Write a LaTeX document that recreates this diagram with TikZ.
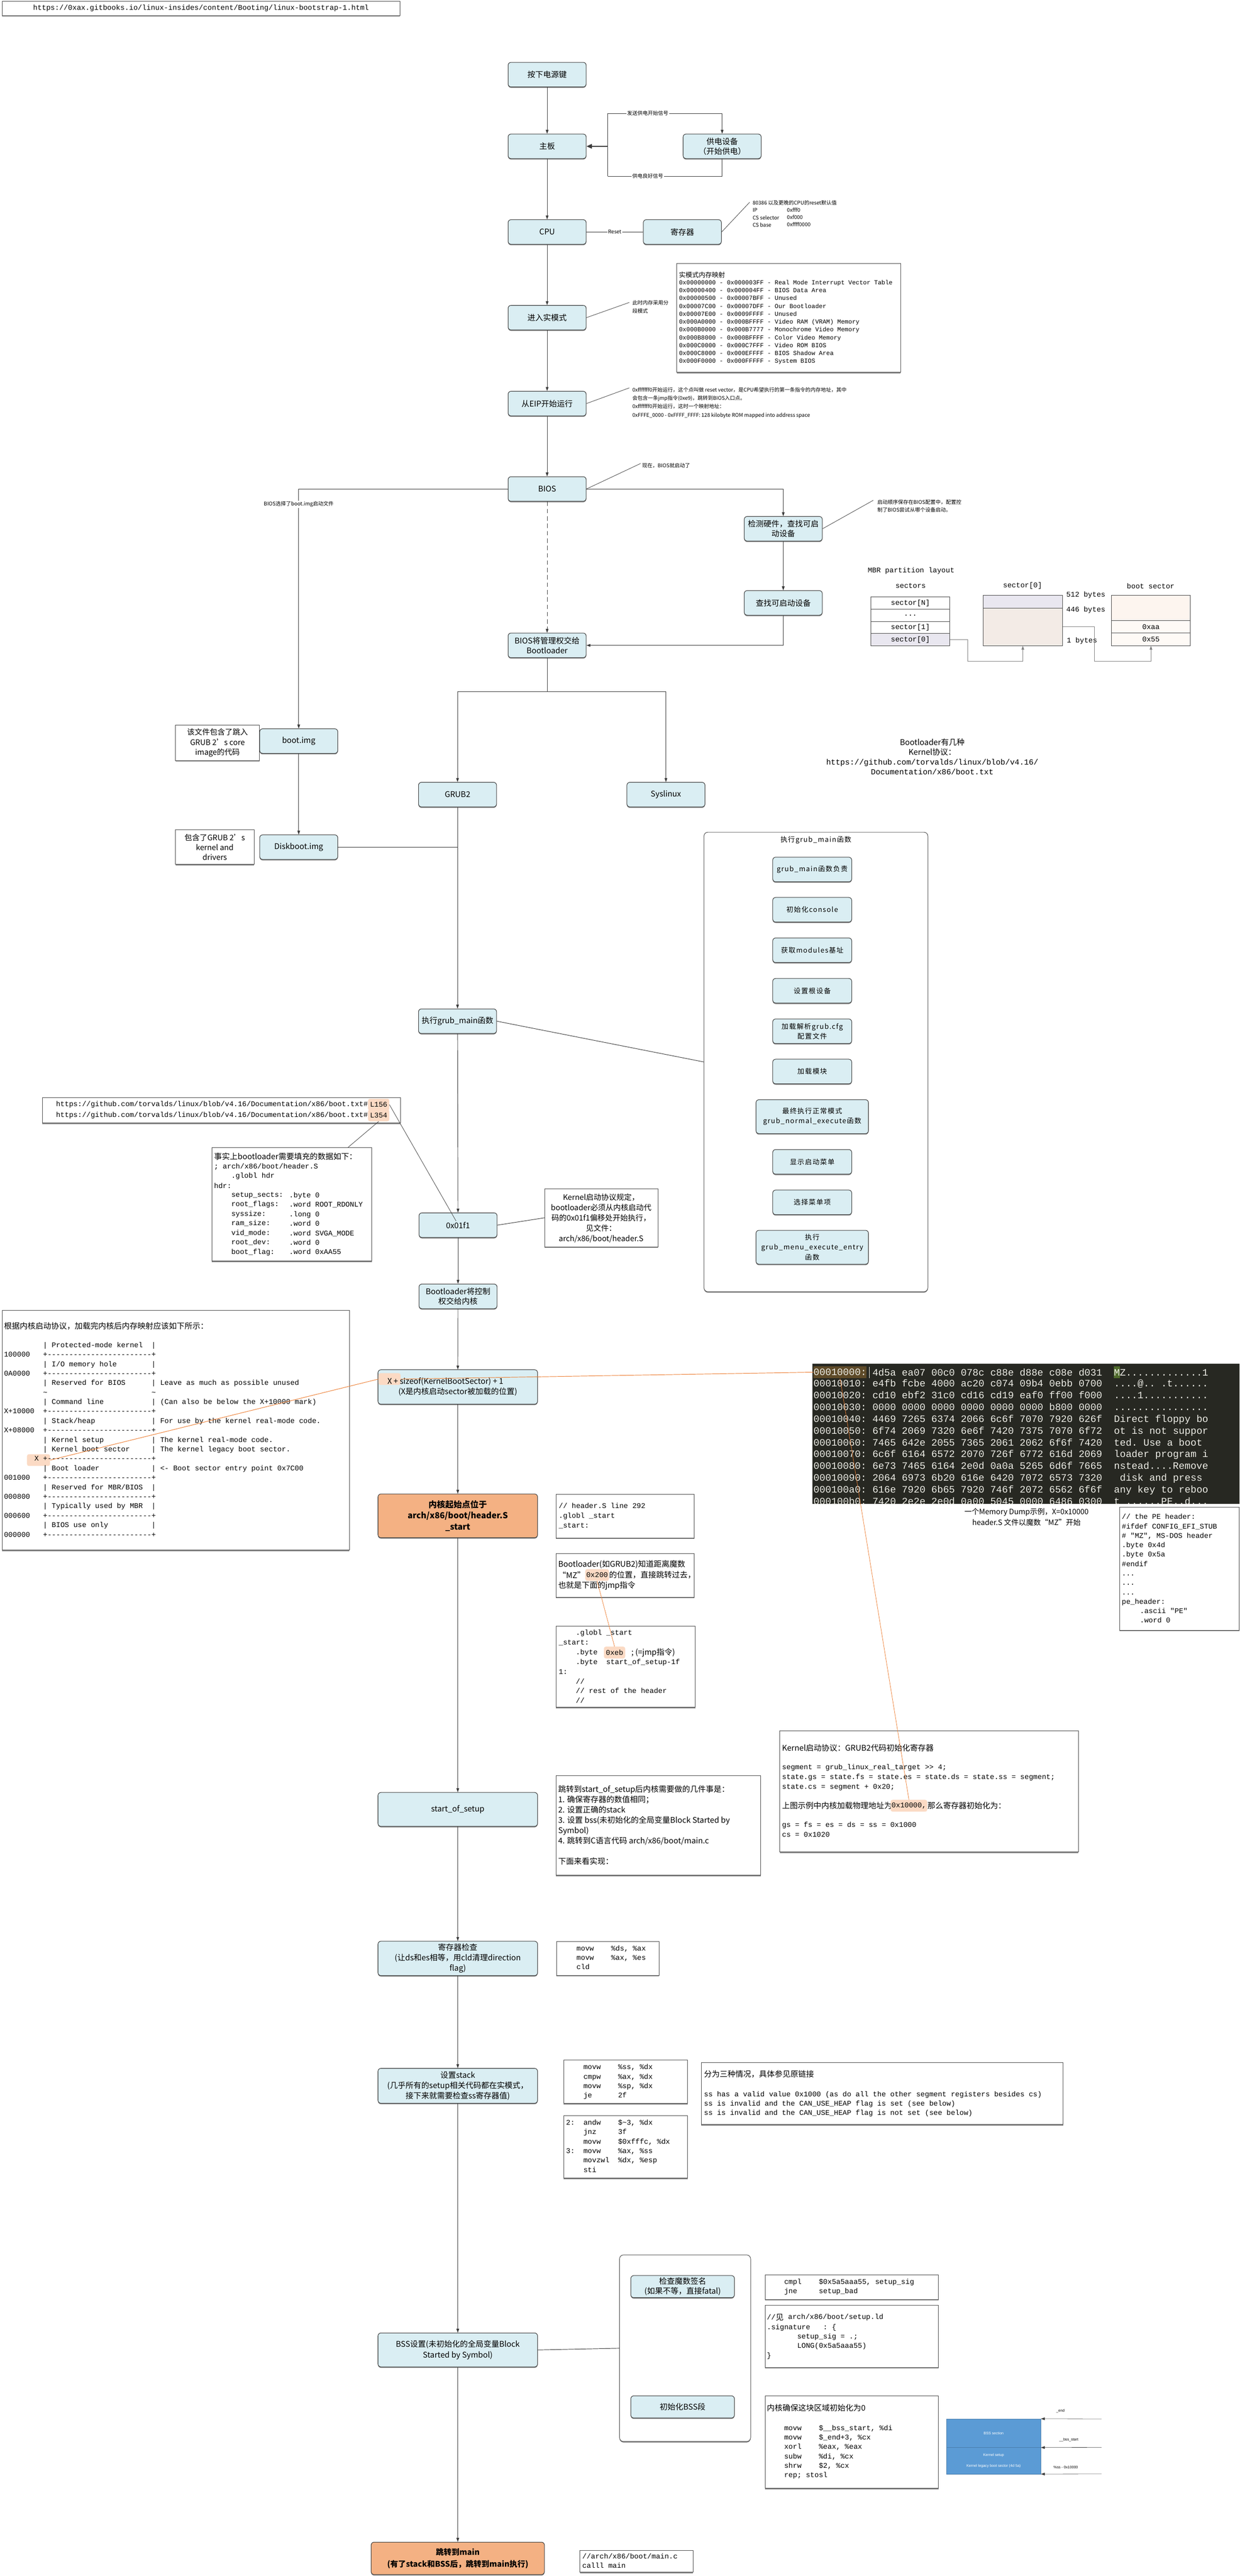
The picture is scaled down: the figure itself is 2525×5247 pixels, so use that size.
\documentclass[tikz,border=0pt]{standalone}
\usepackage{fontspec}
\setmainfont{Noto Sans CJK SC}
\setmonofont{Liberation Mono}
\newfontfamily\gfont{Noto Sans CJK SC}[LetterSpace=10]
\newfontfamily\sfn{Liberation Sans}
\usetikzlibrary{arrows.meta,shadows}
\definecolor{boxfill}{HTML}{DAEEF3}
\definecolor{boxline}{HTML}{3C3C3C}
\definecolor{frline}{HTML}{4A4A4A}
\definecolor{linec}{HTML}{3A3A3A}
\definecolor{orangefill}{HTML}{F4B183}
\definecolor{peach}{HTML}{FBDAC4}
\definecolor{orline}{HTML}{ED7D31}
\definecolor{hexbg}{HTML}{272822}
\definecolor{hexfg}{HTML}{EDEDE6}
\definecolor{hexhl}{HTML}{5E4A28}
\definecolor{mgreen}{HTML}{4F6B2C}
\definecolor{lav}{HTML}{E9E7F0}
\definecolor{beige}{HTML}{F3EBE6}
\definecolor{cream}{HTML}{FDF5EF}
\definecolor{creamb}{HTML}{FEFAF6}
\definecolor{bssblue}{HTML}{5B9BD5}
\definecolor{shad}{HTML}{8A8A8A}
\newcommand\fs[2]{\fontsize{#1}{#2}\selectfont}
\newcommand\spc[1]{\hspace*{#1\dimexpr0.6em\relax}}
\newcommand\mmsep{+------------------------+}
\tikzset{
 ln/.style={draw=linec, line width=1pt},
 arr/.style={ln, -{Triangle[length=8pt,width=5.5pt]}},
 nl/.style={draw=linec, line width=0.8pt},
 orl/.style={draw=orline, line width=1pt},
 shd/.style={drop shadow={shadow xshift=0pt, shadow yshift=-2pt, fill=shad, opacity=1}},
 bx/.style={draw=boxline, fill=boxfill, rounded corners=6pt, line width=1.1pt, align=center, font=\fs{16}{20}, inner sep=2pt, minimum width=159pt, minimum height=50pt, shd},
 obx/.style={bx, fill=orangefill, font=\bfseries\fs{17}{23}},
 gbx/.style={bx, minimum width=161pt, font=\gfont\fs{14}{20}},
 fr/.style={draw=frline, line width=1pt, fill=white, inner sep=0pt, anchor=north west, shd},
 lbl/.style={fill=white, inner sep=1.5pt, font=\fs{10.5}{12}},
 note/.style={anchor=north west, inner sep=0pt, align=left, font=\fs{10.5}{16}},
 tx/.style={anchor=west, inner sep=0pt, font=\fs{16}{20}},
 txb/.style={anchor=north west, inner sep=0pt, align=left, font=\fs{16}{20}},
 mo/.style={anchor=west, inner sep=0pt, font=\ttfamily\fs{14.7}{19.3}},
 mob/.style={anchor=north west, inner sep=0pt, align=left, font=\ttfamily\fs{14.7}{19.3}},
 hlp/.style={fill=peach, rounded corners=4pt, inner xsep=4pt, inner ysep=0pt, minimum height=24pt, anchor=west},
 cell/.style={draw=frline, line width=1pt, minimum width=161pt, minimum height=24.8pt, inner sep=0pt, font=\ttfamily\fs{14.7}{16}},
}
\begin{document}
\begin{tikzpicture}[x=1pt,y=-1pt]
\useasboundingbox (0,0) rectangle (2525,5247);
\fill[white] (0,0) rectangle (2525,5247);

% ---------------- top url
\node[fr, minimum width=810pt, minimum height=29pt] (urltop) at (4,2) {};
\node[inner sep=0pt, font=\ttfamily\fs{14.8}{16}] (urltoptxt) at (urltop.center) {https://0xax.gitbooks.io/linux-insides/content/Booting/linux-bootstrap-1.html};

% ---------------- upper column
\node[bx] (pw) at (1114.5,152) {按下电源键};
\node[bx] (mb) at (1114.5,298) {主板};
\node[bx] (psu) at (1471,298) {供电设备\\（开始供电）};
\node[bx] (cpu) at (1114.5,472.5) {CPU};
\node[bx] (reg) at (1390,472.5) {寄存器};
\node[bx] (rm) at (1114.5,647) {进入实模式};
\node[bx] (eip) at (1114.5,822) {从EIP开始运行};
\node[bx] (bios) at (1114.5,996) {BIOS};
\node[bx] (hw) at (1595.5,1077) {检测硬件，查找可启\\动设备};
\node[bx] (find) at (1595.5,1228) {查找可启动设备};
\node[bx] (bl) at (1114.5,1314.5) {BIOS将管理权交给\\Bootloader};

% notes upper
\coordinate (regN) at (1527,412);
\node[note, font=\fs{10.5}{15}] (regtxt) at (1533,408) {80386 以及更晚的CPU的reset默认值\\IP\\CS selector\\CS base};
\node[note, font=\fs{10.5}{15}] (regval) at (1603,423) {0xfff0\\0xf000\\0xffff0000};

\node[fr, minimum width=456pt, minimum height=222pt] (rmmap) at (1378,536) {};
\node[anchor=west, inner sep=0pt, font=\fs{13.4}{16}] (rmtitle) at (1383,560) {实模式内存映射};
\node[anchor=north west, inner sep=0pt, align=left, font=\ttfamily\fs{12.5}{16}] (rmlines) at (1383,570.5) {0x00000000 - 0x000003FF - Real Mode Interrupt Vector Table\\
0x00000400 - 0x000004FF - BIOS Data Area\\
0x00000500 - 0x00007BFF - Unused\\
0x00007C00 - 0x00007DFF - Our Bootloader\\
0x00007E00 - 0x0009FFFF - Unused\\
0x000A0000 - 0x000BFFFF - Video RAM (VRAM) Memory\\
0x000B0000 - 0x000B7777 - Monochrome Video Memory\\
0x000B8000 - 0x000BFFFF - Color Video Memory\\
0x000C0000 - 0x000C7FFF - Video ROM BIOS\\
0x000C8000 - 0x000EFFFF - BIOS Shadow Area\\
0x000F0000 - 0x000FFFFF - System BIOS};

\coordinate (rmN) at (1282,616);
\node[note] (rmtxt) at (1288,612) {此时内存采用分\\段模式};
\coordinate (eipN) at (1282,790);
\node[note, font=\fs{10.5}{17}] (eiptxt) at (1288,789) {0xfffffff0开始运行，这个点叫做 reset vector，是CPU希望执行的第一条指令的内存地址，其中\\会包含一条jmp指令(0xe9)，跳转到BIOS入口点。\\0xfffffff0开始运行，这时一个映射地址：\\0xFFFE\_0000 - 0xFFFF\_FFFF: 128 kilobyte ROM mapped into address space};
\coordinate (biosN) at (1305,944);
\node[anchor=west, inner sep=0pt, font=\fs{10.5}{12}] (biostxt) at (1308,948) {现在，BIOS就启动了};
\coordinate (hwN) at (1779,1019);
\node[note] (hwtxt) at (1787,1018) {启动顺序保存在BIOS配置中，配置控\\制了BIOS尝试从哪个设备启动。};

% ---------------- MBR layout
\node[inner sep=0pt, font=\ttfamily\fs{14.7}{16}] (mbrt) at (1856,1163) {MBR partition layout};
\node[inner sep=0pt, font=\ttfamily\fs{14.7}{16}] (sect) at (1855,1193) {sectors};
\node[cell] (sN) at (1854.5,1228.4) {sector[N]};
\node[cell] (sD) at (1854.5,1253.2) {...};
\node[cell] (s1) at (1854.5,1278) {sector[1]};
\node[cell, fill=lav] (s0) at (1854.5,1302.8) {sector[0]};
\node[inner sep=0pt, font=\ttfamily\fs{14.7}{16}] (s0t) at (2083,1193) {sector[0]};
\node[cell, fill=lav, minimum height=26pt] (st0a) at (2083.5,1226) {};
\node[cell, fill=beige, minimum height=76pt] (st0b) at (2083.5,1277) {};
\node[mo] (l512) at (2172,1212) {512 bytes};
\node[mo] (l446) at (2172,1242) {446 bytes};
\node[mo] (l1b) at (2173,1305) {1 bytes};
\node[inner sep=0pt, font=\ttfamily\fs{14.7}{16}] (bst) at (2344,1194) {boot sector};
\node[cell, fill=cream, minimum height=51pt] (bsa) at (2344.5,1238.5) {};
\node[cell, fill=creamb, minimum height=25pt] (bsaa) at (2344.5,1276.5) {0xaa};
\node[cell, fill=creamb, minimum height=26pt] (bs55) at (2344.5,1302) {0x55};
\coordinate (m1) at (1971,1347);
\coordinate (m2) at (2229,1347);

\node[align=center, anchor=north, inner sep=0pt, font=\fs{16}{20}] (bltypes) at (1899,1504) {Bootloader有几种\\Kernel协议：\\{\ttfamily https://github.com/torvalds/linux/blob/v4.16/}\\{\ttfamily Documentation/x86/boot.txt}};

% ---------------- bootloaders
\node[bx] (bootimg) at (608.5,1509.5) {boot.img};
\node[bx] (diskimg) at (608.5,1725.5) {Diskboot.img};
\node[bx] (grub2) at (932,1618.5) {GRUB2};
\node[bx] (syslinux) at (1356.5,1618.5) {Syslinux};
\node[fr, minimum width=171pt, minimum height=73pt] (note1) at (357,1476) {};
\node[align=center, inner sep=0pt, font=\fs{15.5}{20.5}] (note1t) at (note1.center) {该文件包含了跳入\\GRUB 2's core\\image的代码};
\node[fr, minimum width=160pt, minimum height=70pt] (note2) at (357,1690) {};
\node[align=center, inner sep=0pt, font=\fs{15.5}{20}] (note2t) at (note2.center) {包含了GRUB 2's\\kernel and\\drivers};

% ---------------- grub_main container
\node[draw=frline, line width=1pt, fill=white, rounded corners=8pt, minimum width=456pt, minimum height=936pt, inner sep=0pt, shd] (gcont) at (1662,2163) {};
\node[inner sep=0pt, font=\gfont\fs{14}{17}] (gtitle) at (1662,1711) {执行grub\_main函数};
\node[gbx] (g1) at (1654.5,1771) {grub\_main函数负责};
\node[gbx] (g2) at (1654.5,1853) {初始化console};
\node[gbx] (g3) at (1654.5,1935.5) {获取modules基址};
\node[gbx] (g4) at (1654.5,2018) {设置根设备};
\node[gbx] (g5) at (1654.5,2100.5) {加载解析grub.cfg\\配置文件};
\node[gbx] (g6) at (1654.5,2182.5) {加载模块};
\node[gbx, minimum width=229pt, minimum height=69pt] (g7) at (1654.5,2274.5) {最终执行正常模式\\grub\_normal\_execute函数};
\node[gbx] (g8) at (1654.5,2366.5) {显示启动菜单};
\node[gbx] (g9) at (1654.5,2449) {选择菜单项};
\node[gbx, minimum width=229pt, minimum height=69pt] (g10) at (1654.5,2540.5) {执行\\grub\_menu\_execute\_entry\\函数};

% ---------------- lower main column
\node[bx] (grubmain) at (932,2080) {执行grub\_main函数};
\node[bx] (x01f1) at (933,2495.5) {0x01f1};
\node[bx] (bl2k) at (933,2640.5) {Bootloader将控制\\权交给内核};
\node[bx, minimum width=325pt, minimum height=70pt] (xs) at (932.5,2825) {};
\node[fill=peach, rounded corners=4pt, minimum width=45pt, minimum height=24pt, inner sep=0pt] (hlXS) at (793.5,2809) {};
\node[tx] (xs1) at (789,2814) {X + sizeof(KernelBootSector) + 1};
\node[inner sep=0pt, font=\fs{16}{20}] (xs2) at (932.5,2835) {(X是内核启动sector被加载的位置)};
\node[obx, minimum width=325pt, minimum height=89pt] (kstart) at (932.5,3087.5) {内核起始点位于\\arch/x86/boot/header.S\\\_start};
\node[bx, minimum width=325pt, minimum height=69pt] (sos) at (932.5,3685.5) {start\_of\_setup};
\node[bx, minimum width=325pt, minimum height=70pt, font=\fs{16}{21}] (regchk) at (932.5,3989) {寄存器检查\\(让ds和es相等，用cld清理direction\\flag)};
\node[bx, minimum width=325pt, minimum height=71pt, font=\fs{16}{21}] (stk) at (932.5,4248.5) {设置stack\\(几乎所有的setup相关代码都在实模式，\\接下来就需要检查ss寄存器值)};
\node[bx, minimum width=325pt, minimum height=69pt, font=\fs{16}{22}] (bss) at (932.5,4786.5) {BSS设置(未初始化的全局变量Block\\Started by Symbol)};
\node[obx, minimum width=353pt, minimum height=66pt, font=\bfseries\fs{16}{24}] (mainb) at (932.5,5211) {跳转到main\\(有了stack和BSS后，跳转到main执行)};

% ---------------- url box 2 and hdr
\node[fr, minimum width=729pt, minimum height=52pt] (url2) at (86,2235) {};
\node[mo] (u1) at (114,2250) {https://github.com/torvalds/linux/blob/v4.16/Documentation/x86/boot.txt\#};
\node[hlp, font=\ttfamily\fs{14.7}{16}] (hlL156) at (u1.east) {L156};
\node[mo] (u2) at (114,2272) {https://github.com/torvalds/linux/blob/v4.16/Documentation/x86/boot.txt\#};
\node[hlp, font=\ttfamily\fs{14.7}{16}] (hlL354) at (u2.east) {L354};
\coordinate (hdrtop) at (709,2337);
\coordinate (x01end) at (929,2487);

\node[fr, minimum width=326pt, minimum height=231pt] (hdrb) at (431,2337) {};
\node[tx] (hdr0) at (436,2356) {事实上bootloader需要填充的数据如下：};
\node[mo] (hdr1) at (436,2376) {; arch/x86/boot/header.S};
\node[mo] (hdr2) at (471,2396) {.globl hdr};
\node[mo] (hdr3) at (436,2415) {hdr:};
\node[mob, font=\ttfamily\fs{14.7}{19.4}] (hdrn) at (471,2428) {setup\_sects:\\root\_flags:\\syssize:\\ram\_size:\\vid\_mode:\\root\_dev:\\boot\_flag:};
\node[mob, font=\ttfamily\fs{14.7}{19.4}] (hdrv) at (589,2428) {.byte 0\\.word ROOT\_RDONLY\\.long 0\\.word 0\\.word SVGA\_MODE\\.word 0\\.word 0xAA55};

\node[fr, minimum width=231pt, minimum height=118pt] (knote) at (1109,2421) {};
\node[align=center, inner sep=0pt, font=\fs{15.5}{21}] (knotet) at (1224.5,2481) {Kernel启动协议规定，\\bootloader必须从内核启动代\\码的0x01f1偏移处开始执行，\\见文件：\\arch/x86/boot/header.S};

% ---------------- memory map after load
\node[fr, minimum width=707pt, minimum height=488pt] (mmb) at (4,2669) {};
\node[tx] (mmh) at (8,2701) {根据内核启动协议，加载完内核后内存映射应该如下所示：};
\node[fill=peach, rounded corners=4pt, minimum width=47pt, minimum height=24pt, inner sep=0pt] (hlMX) at (78.5,2974) {};
\node[anchor=north west, inner sep=0pt, align=left, font=\ttfamily\fs{14.73}{19.3}] (mmlines) at (8,2733.5) {\spc{9}| Protected-mode kernel\spc{2}|\\
100000\spc{3}\mmsep\\
\spc{9}| I/O memory hole\spc{8}|\\
0A0000\spc{3}\mmsep\\
\spc{9}| Reserved for BIOS\spc{6}| Leave as much as possible unused\\
\spc{9}\textasciitilde\spc{24}\textasciitilde\\
\spc{9}| Command line\spc{11}| (Can also be below the X+10000 mark)\\
X+10000\spc{2}\mmsep\\
\spc{9}| Stack/heap\spc{13}| For use by the kernel real-mode code.\\
X+08000\spc{2}\mmsep\\
\spc{9}| Kernel setup\spc{11}| The kernel real-mode code.\\
\spc{9}| Kernel boot sector\spc{5}| The kernel legacy boot sector.\\
\spc{7}X \mmsep\\
\spc{9}| Boot loader\spc{12}| <- Boot sector entry point 0x7C00\\
001000\spc{3}\mmsep\\
\spc{9}| Reserved for MBR/BIOS\spc{2}|\\
000800\spc{3}\mmsep\\
\spc{9}| Typically used by MBR\spc{2}|\\
000600\spc{3}\mmsep\\
\spc{9}| BIOS use only\spc{10}|\\
000000\spc{3}\mmsep};

% ---------------- hexdump
\node[fill=hexbg, minimum width=870pt, minimum height=285pt, anchor=north west, inner sep=0pt] (hexb) at (1655,2778) {};
\begin{scope}
\clip (hexb.north west) rectangle (hexb.south east);
\fill[mgreen] (2269,2783) rectangle (2281,2807);
\node[fill=hexhl, inner sep=0pt, minimum height=25pt, anchor=west, text=hexfg, font=\ttfamily\fs{20}{24}] (hladdr) at (1657,2795) {00010000:};
\draw[hexfg, line width=0.8pt] (1771,2784) -- (1771,2807);
\node[anchor=west, inner sep=0pt, text=hexfg, font=\ttfamily\fs{20}{24}] (hex1) at (1777,2795) {4d5a ea07 00c0 078c c88e d88e c08e d031~~MZ.............1};
\node[anchor=north west, inner sep=0pt, align=left, text=hexfg, font=\ttfamily\fs{20}{24}] (hexr) at (1657,2810) {00010010:~e4fb~fcbe~4000~ac20~c074~09b4~0ebb~0700~~....@..~.t......\\
00010020:~cd10~ebf2~31c0~cd16~cd19~eaf0~ff00~f000~~....1...........\\
00010030:~0000~0000~0000~0000~0000~0000~b800~0000~~................\\
00010040:~4469~7265~6374~2066~6c6f~7070~7920~626f~~Direct~floppy~bo\\
00010050:~6f74~2069~7320~6e6f~7420~7375~7070~6f72~~ot~is~not~suppor\\
00010060:~7465~642e~2055~7365~2061~2062~6f6f~7420~~ted.~Use~a~boot~\\
00010070:~6c6f~6164~6572~2070~726f~6772~616d~2069~~loader~program~i\\
00010080:~6e73~7465~6164~2e0d~0a0a~5265~6d6f~7665~~nstead....Remove\\
00010090:~2064~6973~6b20~616e~6420~7072~6573~7320~~~disk~and~press~\\
000100a0:~616e~7920~6b65~7920~746f~2072~6562~6f6f~~any~key~to~reboo\\
000100b0:~7420~2e2e~2e0d~0a00~5045~0000~6486~0300~~t~......PE..d...};
\end{scope}
\node[align=center, inner sep=0pt, font=\fs{15}{22}] (hexcap) at (2091,3090) {一个Memory Dump示例，X=0x10000\\header.S 文件以魔数“MZ”开始};

\node[fr, minimum width=244pt, minimum height=251pt] (peb) at (2280,3069) {};
\node[mob, font=\ttfamily\fs{14.7}{19.2}] (pe1) at (2285,3083.5) {// the PE header:\\\#ifdef CONFIG\_EFI\_STUB\\\# "MZ", MS-DOS header\\.byte 0x4d\\.byte 0x5a\\\#endif\\...\\...\\...\\pe\_header:};
\node[mob, font=\ttfamily\fs{14.7}{19.2}] (pe2) at (2322,3275.5) {.ascii "PE"\\.word 0};

% ---------------- header.S boxes
\node[fr, minimum width=282pt, minimum height=89pt] (h292) at (1132,3043) {};
\node[mob, font=\ttfamily\fs{14.7}{20}] (h292t) at (1138,3061.5) {// header.S line 292\\.globl \_start\\\_start:};
\node[fr, minimum width=282pt, minimum height=89pt] (bmz) at (1132,3164) {};
\node[tx] (bmz1) at (1137,3187) {Bootloader(如GRUB2)知道距离魔数};
\node[tx] (bmz2) at (1137,3208) {“MZ”};
\node[hlp, font=\ttfamily\fs{14.7}{16}, inner xsep=2pt] (hl200) at (bmz2.east) {0x200};
\node[tx] (bmz3) at (hl200.east) {的位置，直接跳转过去，};
\node[tx] (bmz4) at (1137,3230) {也就是下面的jmp指令};

\node[fr, minimum width=284pt, minimum height=165pt] (gsb) at (1132,3312) {};
\node[mo] (gs1) at (1173,3326) {.globl \_start};
\node[mo] (gs2) at (1138,3346) {\_start:};
\node[mo] (gs3) at (1173,3366) {.byte};
\node[hlp, font=\ttfamily\fs{14.7}{16}] (hlEB) at (1230,3366) {0xeb};
\node[tx] (gs3b) at (1286,3366) {; (=jmp指令)};
\node[mo] (gs4) at (1173,3386) {.byte~~start\_of\_setup-1f};
\node[mo] (gs5) at (1138,3405) {1:};
\node[mo] (gs6) at (1173,3425) {//};
\node[mo] (gs7) at (1173,3444) {// rest of the header};
\node[mo] (gs8) at (1173,3464) {//};

% ---------------- kernel protocol registers
\node[fr, minimum width=608pt, minimum height=247pt] (kpb) at (1588,3525) {};
\node[tx] (kp1) at (1593,3560) {Kernel启动协议：GRUB2代码初始化寄存器};
\node[mob, font=\ttfamily\fs{14.7}{19.7}] (kp2) at (1593,3593.5) {segment = grub\_linux\_real\_target >> 4;\\state.gs = state.fs = state.es = state.ds = state.ss = segment;\\state.cs = segment + 0x20;};
\node[tx] (kp3) at (1593,3678) {上图示例中内核加载物理地址为};
\node[hlp, font=\ttfamily\fs{14.7}{16}, inner xsep=2pt] (hl10000) at (1814,3678) {0x10000,};
\node[tx] (kp4) at (hl10000.east) {那么寄存器初始化为：};
\node[mob, font=\ttfamily\fs{14.7}{20}] (kp5) at (1593,3710.5) {gs = fs = es = ds = ss = 0x1000\\cs = 0x1020};

\node[fr, minimum width=417pt, minimum height=203pt] (sosb) at (1132,3616) {};
\node[txb, font=\fs{16}{20.9}] (sost) at (1137,3637) {跳转到start\_of\_setup后内核需要做的几件事是：\\1. 确保寄存器的数值相同；\\2. 设置正确的stack\\3. 设置 bss(未初始化的全局变量Block Started by\\Symbol)\\4. 跳转到C语言代码 arch/x86/boot/main.c\\\mbox{}\\下面来看实现：};

% ---------------- bottom code boxes
\node[fr, minimum width=209pt, minimum height=69pt] (c1) at (1133,3954) {};
\node[mob, font=\ttfamily\fs{14.7}{19}] (c1t) at (1139,3962.5) {~~~~movw~~~~\%ds, \%ax\\~~~~movw~~~~\%ax, \%es\\~~~~cld};
\node[fr, minimum width=252pt, minimum height=89pt] (c2) at (1148,4195) {};
\node[mob, font=\ttfamily\fs{14.7}{19}] (c2t) at (1153,4204.5) {~~~~movw~~~~\%ss, \%dx\\~~~~cmpw~~~~\%ax, \%dx\\~~~~movw~~~~\%sp, \%dx\\~~~~je~~~~~~2f};
\node[fr, minimum width=252pt, minimum height=127pt] (c3) at (1148,4309) {};
\node[mob, font=\ttfamily\fs{14.7}{19.2}] (c3t) at (1153,4317.5) {2:~~andw~~~~\$\textasciitilde 3, \%dx\\~~~~jnz~~~~~3f\\~~~~movw~~~~\$0xfffc, \%dx\\3:~~movw~~~~\%ax, \%ss\\~~~~movzwl~~\%dx, \%esp\\~~~~sti};
\node[fr, minimum width=737pt, minimum height=126pt] (c4) at (1428,4201) {};
\node[tx] (c4a) at (1434,4225) {分为三种情况，具体参见原链接};
\node[mob, font=\ttfamily\fs{14.7}{19}] (c4b) at (1434,4259.5) {ss has a valid value 0x1000 (as do all the other segment registers besides cs)\\ss is invalid and the CAN\_USE\_HEAP flag is set (see below)\\ss is invalid and the CAN\_USE\_HEAP flag is not set (see below)};

\node[draw=frline, line width=1pt, fill=white, rounded corners=8pt, minimum width=267pt, minimum height=380pt, inner sep=0pt, shd] (cont2) at (1395.5,4783) {};
\node[bx, minimum width=211pt, minimum height=45pt] (magic) at (1390.5,4657.5) {检查魔数签名\\(如果不等，直接fatal)};
\node[bx, minimum width=211pt, minimum height=45pt] (initbss) at (1390.5,4902.5) {初始化BSS段};

\node[fr, minimum width=353pt, minimum height=50pt] (c5) at (1558,4633) {};
\node[mob, font=\ttfamily\fs{14.7}{19}] (c5t) at (1562,4641.5) {~~~~cmpl~~~~\$0x5a5aaa55, setup\_sig\\~~~~jne~~~~~setup\_bad};
\node[fr, minimum width=353pt, minimum height=127pt] (c6) at (1558,4695) {};
\node[mo] (c6a) at (1562,4720) {//};
\node[tx] (c6b) at (c6a.east) {见};
\node[mo] (c6c) at (c6b.east) {~arch/x86/boot/setup.ld};
\node[mob, font=\ttfamily\fs{14.7}{19.3}] (c6d) at (1562,4733.5) {.signature~~~: \{\\~~~~~~~setup\_sig = .;\\~~~~~~~LONG(0x5a5aaa55)\\\}};
\node[fr, minimum width=353pt, minimum height=188pt] (c7) at (1558,4880) {};
\node[tx] (c7a) at (1562,4905) {内核确保这块区域初始化为0};
\node[mob, font=\ttfamily\fs{14.7}{19.2}] (c7b) at (1562,4939.5) {~~~~movw~~~~\$\_\_bss\_start, \%di\\~~~~movw~~~~\$\_end+3, \%cx\\~~~~xorl~~~~\%eax, \%eax\\~~~~subw~~~~\%di, \%cx\\~~~~shrw~~~~\$2, \%cx\\~~~~rep; stosl};

\node[draw=bssblue!80!black, line width=0.6pt, fill=bssblue, minimum width=192pt, minimum height=58pt, inner sep=0pt, text=white, font=\sfn\fs{7.5}{9}] (bssA) at (2024,4956) {BSS section};
\node[draw=bssblue!80!black, line width=0.6pt, fill=bssblue, minimum width=192pt, minimum height=54pt, inner sep=0pt, text=white, align=center, font=\sfn\fs{7.5}{22}] (bssB) at (2024,5012) {Kernel setup\\Kernel legacy boot sector (4d 5a)};
\coordinate (eE) at (2244,4927);
\coordinate (eB) at (2244,4985);
\coordinate (eS) at (2244,5039);
\node[inner sep=0pt, font=\sfn\fs{7.5}{9}] (lend) at (2160,4911) {\_end};
\node[inner sep=0pt, font=\sfn\fs{7.5}{9}] (lbss) at (2177,4970) {\_\_bss\_start};
\node[inner sep=0pt, font=\sfn\fs{7.5}{9}] (lss) at (2171,5026) {\%ss - 0x10000};

\node[fr, minimum width=230pt, minimum height=45pt] (mainc) at (1181,5194) {};
\node[mob, font=\ttfamily\fs{14.7}{19}] (mainct) at (1186,5200.5) {//arch/x86/boot/main.c\\calll main};

% ================= connectors
\draw[arr] (pw) -- (mb);
\draw[arr] (mb) -- (cpu);
\coordinate (lt) at (1238,231);
\coordinate (lb) at (1238,359);
\draw[ln] (lt) -- (lb);
\draw[ln] (lt) -- (lt -| psu.north) node[lbl, pos=0.35] {发送供电开始信号};
\draw[arr] (lt -| psu.north) -- (psu.north);
\draw[ln] (psu.south) -- (psu.south |- lb) -- (lb) node[lbl, pos=0.65] {供电良好信号};
\draw[draw=linec, line width=2.4pt, -{Triangle[length=11pt,width=9pt]}] (lt |- mb.east) -- (mb.east);
\draw[ln] (cpu) -- node[lbl] {Reset} (reg);
\draw[arr] (cpu) -- (rm);
\draw[arr] (rm) -- (eip);
\draw[arr] (eip) -- (bios);
\draw[nl] (reg.east) -- (regN);
\draw[nl] (rm.east) -- (rmN);
\draw[nl] (eip.east) -- (eipN);
\draw[nl] (bios.east) -- (biosN);
\draw[nl] (hw.east) -- (hwN);

\draw[arr] (bios.west) -| (bootimg.north);
\path (bios.west -| bootimg.north) -- (bootimg.north) node[lbl, pos=0.064] {BIOS选择了boot.img启动文件};
\draw[arr] (bios.east) -| (hw.north);
\draw[arr] (hw) -- (find);
\draw[arr] (find.south) |- (bl.east);
\draw[arr, line width=0.8pt, dash pattern=on 9pt off 6pt] (bios) -- (bl);
\coordinate (split) at (1114.5,1409);
\draw[ln] (bl.south) -- (split);
\draw[ln] (split -| grub2.north) -- (split -| syslinux.north);
\draw[arr] (split -| grub2.north) -- (grub2.north);
\draw[arr] (split -| syslinux.north) -- (syslinux.north);

\draw[arr, draw=gray] (s0.east) -| (m1) -| (st0b.south);
\draw[arr, draw=gray] (st0b.east) -| (m2) -| (bs55.south);

\draw[arr] (bootimg) -- (diskimg);
\draw[ln] (diskimg.east) -- (diskimg.east -| grub2.south);
\draw[arr] (grub2) -- (grubmain);
\draw[ln] (grubmain.east) -- (gcont.west);
\draw[arr] (grubmain) -- (x01f1);
\draw[ln] (x01f1.east) -- (knote.west);
\draw[arr] (x01f1) -- (bl2k);
\draw[arr] (bl2k) -- (xs);
\draw[arr] (xs) -- (kstart);
\draw[arr] (kstart) -- (sos);
\draw[arr] (sos) -- (regchk);
\draw[arr] (regchk) -- (stk);
\draw[arr] (stk) -- (bss);
\draw[arr] (bss) -- (mainb);
\draw[ln] (bss.east) -- (cont2.west);

\draw[nl] (hlL354.south) -- (hdrtop);
\draw[nl] (hlL156.east) -- (x01end);

\draw[arr, line width=0.6pt] (eE) -- (bssA.north east);
\draw[arr, line width=0.6pt] (eB) -- (bssA.south east);
\draw[arr, line width=0.6pt] (eS) -- (bssB.south east);

\draw[orl] (hlMX.east) -- (hlXS.west);
\draw[orl] (hlXS.east) -- (hladdr.west);
\draw[orl, line width=0.8pt] (hladdr.south) -- (hl10000.north);
\draw[orl, line width=0.8pt] (hl200.south) -- (hlEB.north);
\end{tikzpicture}
\end{document}
